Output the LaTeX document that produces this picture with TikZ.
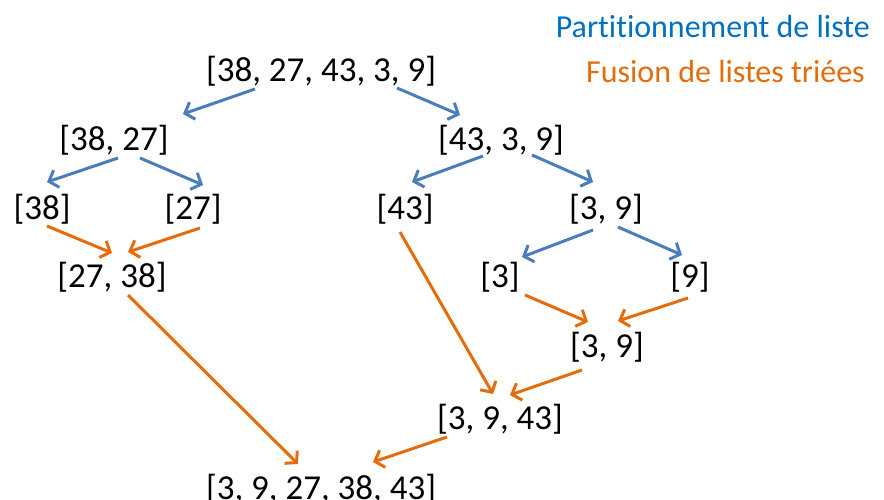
\documentclass[tikz,border=0pt]{standalone}
\usepackage{fontspec}
\setmainfont[Ligatures=NoCommon]{Carlito}
\usetikzlibrary{arrows.meta,calc}
\definecolor{splitblue}{HTML}{4A7EBB}
\definecolor{mergeorange}{HTML}{E46C0A}
\definecolor{legblue}{HTML}{0070C0}

\begin{document}
\begin{tikzpicture}[x=1pt,y=-1pt,>={Straight Barb[length=8pt,width=18pt]},
  font=\fontsize{35}{40}\selectfont,
  lst/.style={inner sep=0pt,text height=28pt,text depth=0pt},
  leg/.style={anchor=base east,inner sep=0pt,font=\fontsize{32}{36}\selectfont},
  split/.style={->,line width=3pt,splitblue},
  merge/.style={->,line width=3pt,mergeorange}]
  \useasboundingbox (0,0) rectangle (884,499);
  % lists
  \node[lst] (all) at (321,67)  {[38, 27, 43, 3, 9]};
  \node[lst] (l)   at (114,136) {[38, 27]};
  \node[lst] (r)   at (501,136) {[43, 3, 9]};
  \node[lst] (ll)  at (42,205)  {[38]};
  \node[lst] (lr)  at (193,205) {[27]};
  \node[lst] (rl)  at (405,205) {[43]};
  \node[lst] (rr)  at (606,205) {[3, 9]};
  \node[lst] (lm)  at (112,273) {[27, 38]};
  \node[lst] (rrl) at (500,273) {[3]};
  \node[lst] (rrr) at (690,273) {[9]};
  \node[lst] (rrm) at (607,343) {[3, 9]};
  \node[lst] (rm)  at (500,415) {[3, 9, 43]};
  \node[lst] (res) at (321,485) {[3, 9, 27, 38, 43]};
  % legend
  \node[leg,legblue]     (legsplit) at (870,37) {Partitionnement de liste};
  \node[leg,mergeorange] (legmerge) at (865,82) {Fusion de listes triées};
  % partition
  \foreach \a/\ax/\ay/\b/\bx/\by in {all/-66/22/l/69/-22, all/76/21/r/-41/-21,
      l/4/22/ll/5/-23, l/26/22/lr/10/-20, r/-18/20/rl/7/-23, r/31/19/rr/-13/-23,
      rr/-13/25/rrl/22/-16, rr/12/22/rrr/-8/-18} {
    \draw[split] ($(\a)+(\ax,\ay)$) -- ($(\b)+(\bx,\by)$);
  }
  % merge
  \foreach \a/\ax/\ay/\b/\bx/\by in {ll/5/21/lm/0/-20, lr/7/23/lm/16/-21,
      rrl/25/22/rrm/-19/-21, rrr/-2/25/rrm/11/-22, rl/-5/27/rm/-7/-21,
      rrm/-25/27/rm/10/-20, rm/-53/22/res/52/-23, lm/16/22/res/-23/-21} {
    \draw[merge] ($(\a)+(\ax,\ay)$) -- ($(\b)+(\bx,\by)$);
  }
\end{tikzpicture}
\end{document}
